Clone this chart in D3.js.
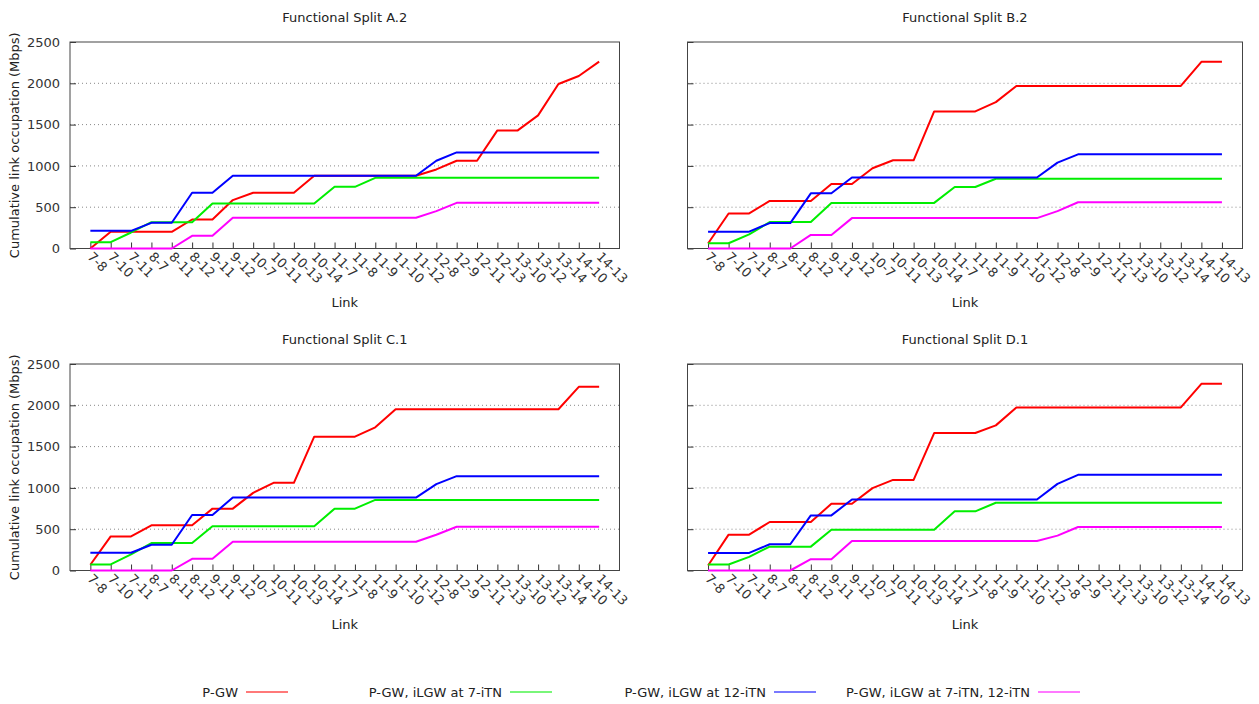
<!DOCTYPE html>
<html>
<head>
<meta charset="utf-8">
<script src="https://cdn.jsdelivr.net/npm/d3@7"></script>
<style>
  body { margin: 0; background: #fff; }
  svg { font-family: "DejaVu Sans", sans-serif; }
</style>
</head>
<body>
<div id="chart"></div>
<script>
const links = ["7-8", "7-10", "7-11", "8-7", "8-11", "8-12", "9-11", "9-12", "10-7", "10-11",
  "10-13", "10-14", "11-7", "11-8", "11-9", "11-10", "11-12", "12-8", "12-9", "12-11",
  "12-13", "13-10", "13-12", "13-14", "14-10", "14-13"];
const yTicks = [0, 500, 1000, 1500, 2000, 2500];
const seriesNames = ["P-GW", "P-GW, iLGW at 7-iTN", "P-GW, iLGW at 12-iTN", "P-GW, iLGW at 7-iTN, 12-iTN"];
const seriesColors = ["#ff0000", "#00ee00", "#0000ff", "#ff00ff"];

// Functional Split A.2
const a2Pgw = [0, 202, 202, 202, 202, 351, 351, 586, 675, 675, 675, 880, 880, 880, 880, 880, 880, 957, 1062, 1062, 1430, 1430, 1612, 1992, 2089, 2262];
const a2At7 = [77, 77, 194, 319, 319, 319, 545, 545, 545, 545, 545, 545, 747, 747, 856, 856, 856, 856, 856, 856, 856, 856, 856, 856, 856, 856];
const a2At12 = [214, 214, 214, 311, 311, 675, 675, 880, 880, 880, 880, 880, 880, 880, 880, 880, 880, 1062, 1163, 1163, 1163, 1163, 1163, 1163, 1163, 1163];
const a2Both = [0, 0, 0, 0, 0, 153, 153, 372, 372, 372, 372, 372, 372, 372, 372, 372, 372, 452, 553, 553, 553, 553, 553, 553, 553, 553];

// Functional Split B.2
const b2Pgw = [60, 424, 424, 576, 576, 576, 780, 780, 972, 1068, 1068, 1660, 1660, 1660, 1772, 1968, 1968, 1968, 1968, 1968, 1968, 1968, 1968, 1968, 2260, 2260];
const b2At7 = [64, 64, 172, 320, 320, 320, 552, 552, 552, 552, 552, 552, 744, 744, 844, 844, 844, 844, 844, 844, 844, 844, 844, 844, 844, 844];
const b2At12 = [204, 204, 204, 308, 308, 668, 668, 860, 860, 860, 860, 860, 860, 860, 860, 860, 860, 1040, 1140, 1140, 1140, 1140, 1140, 1140, 1140, 1140];
const b2Both = [0, 0, 0, 0, 0, 164, 164, 368, 368, 368, 368, 368, 368, 368, 368, 368, 368, 452, 560, 560, 560, 560, 560, 560, 560, 560];

// Functional Split C.1
const c1Pgw = [70, 413, 413, 547, 547, 547, 749, 749, 940, 1061, 1061, 1620, 1620, 1620, 1733, 1952, 1952, 1952, 1952, 1952, 1952, 1952, 1952, 1952, 2224, 2224];
const c1At7 = [73, 73, 194, 332, 332, 332, 535, 535, 535, 535, 535, 535, 749, 749, 855, 855, 855, 855, 855, 855, 855, 855, 855, 855, 855, 855];
const c1At12 = [215, 215, 215, 312, 312, 672, 672, 883, 883, 883, 883, 883, 883, 883, 883, 883, 883, 1045, 1142, 1142, 1142, 1142, 1142, 1142, 1142, 1142];
const c1Both = [0, 0, 0, 0, 0, 142, 142, 348, 348, 348, 348, 348, 348, 348, 348, 348, 348, 433, 530, 530, 530, 530, 530, 530, 530, 530];

// Functional Split D.1
const d1Pgw = [60, 434, 434, 587, 587, 587, 808, 808, 997, 1097, 1097, 1664, 1664, 1664, 1757, 1974, 1974, 1974, 1974, 1974, 1974, 1974, 1974, 1974, 2260, 2260];
const d1At7 = [72, 72, 165, 289, 289, 289, 494, 494, 494, 494, 494, 494, 716, 716, 820, 820, 820, 820, 820, 820, 820, 820, 820, 820, 820, 820];
const d1At12 = [213, 213, 213, 318, 318, 667, 667, 860, 860, 860, 860, 860, 860, 860, 860, 860, 860, 1049, 1158, 1158, 1158, 1158, 1158, 1158, 1158, 1158];
const d1Both = [0, 0, 0, 0, 0, 137, 137, 358, 358, 358, 358, 358, 358, 358, 358, 358, 358, 422, 527, 527, 527, 527, 527, 527, 527, 527];

const width = 1259;
const height = 704;
const fontSize = 13;

const panels = [
  { title: "Functional Split A.2", series: [a2Pgw, a2At7, a2At12, a2Both], left: 70, right: 619.5, top: 42, bottom: 248.5, yLabels: true },
  { title: "Functional Split B.2", series: [b2Pgw, b2At7, b2At12, b2Both], left: 687.5, right: 1242.5, top: 42, bottom: 248.5, yLabels: false },
  { title: "Functional Split C.1", series: [c1Pgw, c1At7, c1At12, c1Both], left: 70, right: 619.5, top: 364, bottom: 570.5, yLabels: true },
  { title: "Functional Split D.1", series: [d1Pgw, d1At7, d1At12, d1Both], left: 687.5, right: 1242.5, top: 364, bottom: 570.5, yLabels: false },
];

const svg = d3.select("#chart")
  .append("svg")
  .attr("width", width)
  .attr("height", height);

const drawPanel = (p) => {
  const x = d3.scalePoint().domain(links).range([p.left, p.right]).padding(1);
  const y = d3.scaleLinear().domain([0, 2500]).range([p.bottom, p.top]);
  const g = svg.append("g");

  // dotted grid
  g.append("g")
    .selectAll("line")
    .data(yTicks.filter((t) => t > 0 && t < 2500))
    .join("line")
    .attr("x1", p.left)
    .attr("x2", p.right)
    .attr("y1", (d) => y(d))
    .attr("y2", (d) => y(d))
    .attr("stroke", "#888")
    .attr("stroke-width", 1)
    .attr("stroke-dasharray", "1,3");

  // y axis: ticks inward
  const yAxis = d3.axisLeft(y)
    .tickValues(yTicks)
    .tickSizeInner(-6)
    .tickSizeOuter(0)
    .tickPadding(10)
    .tickFormat(p.yLabels ? d3.format("d") : () => "");
  const gy = g.append("g")
    .attr("transform", `translate(${p.left},0)`)
    .call(yAxis);
  gy.select(".domain").remove();
  gy.selectAll("line").attr("stroke", "#333");
  gy.selectAll("text")
    .attr("font-size", fontSize)
    .attr("fill", "#333")
    .attr("font-family", "DejaVu Sans, sans-serif");

  // x axis: ticks inward, rotated labels
  const xAxis = d3.axisBottom(x).tickSizeInner(-6).tickSizeOuter(0).tickPadding(0);
  const gx = g.append("g")
    .attr("transform", `translate(0,${p.bottom})`)
    .call(xAxis);
  gx.select(".domain").remove();
  gx.selectAll("line").attr("stroke", "#333");
  gx.selectAll("text")
    .attr("font-size", fontSize)
    .attr("fill", "#333")
    .attr("font-family", "DejaVu Sans, sans-serif")
    .attr("text-anchor", "start")
    .attr("dy", null)
    .attr("y", 0)
    .attr("transform", "translate(-4,9) rotate(45)");

  // frame
  g.append("rect")
    .attr("x", p.left)
    .attr("y", p.top)
    .attr("width", p.right - p.left)
    .attr("height", p.bottom - p.top)
    .attr("fill", "none")
    .attr("stroke", "#444")
    .attr("stroke-width", 1);

  // lines
  const line = d3.line()
    .x((d, i) => x(links[i]))
    .y((d) => y(d));
  p.series.forEach((s, k) => {
    g.append("path")
      .datum(s)
      .attr("fill", "none")
      .attr("stroke", seriesColors[k])
      .attr("stroke-width", 2)
      .attr("stroke-linejoin", "round")
      .attr("d", line);
  });

  // title
  const cx = (p.left + p.right) / 2;
  g.append("text")
    .attr("x", cx)
    .attr("y", p.top - 20)
    .attr("text-anchor", "middle")
    .attr("font-size", fontSize)
    .attr("fill", "#222")
    .text(p.title);

  // x label
  g.append("text")
    .attr("x", cx)
    .attr("y", p.bottom + 58)
    .attr("text-anchor", "middle")
    .attr("font-size", fontSize)
    .attr("fill", "#222")
    .text("Link");

  if (p.yLabels) {
    g.append("text")
      .attr("transform", `translate(19,${(p.top + p.bottom) / 2}) rotate(-90)`)
      .attr("text-anchor", "middle")
      .attr("font-size", fontSize)
      .attr("fill", "#222")
      .text("Cumulative link occupation (Mbps)");
  }
};

panels.forEach(drawPanel);

// legend
const legendX = d3.scaleLinear().domain([0, 1]).range([246, 510]);
const legend = svg.append("g").attr("transform", "translate(0,692)");
seriesNames.forEach((name, k) => {
  const lx = legendX(k);
  legend.append("text")
    .attr("x", lx - 8)
    .attr("y", 4.5)
    .attr("text-anchor", "end")
    .attr("font-size", fontSize)
    .attr("fill", "#222")
    .text(name);
  legend.append("line")
    .attr("x1", lx)
    .attr("x2", lx + 42)
    .attr("y1", 0)
    .attr("y2", 0)
    .attr("stroke", seriesColors[k])
    .attr("stroke-opacity", 0.7)
    .attr("stroke-width", 1.5);
});
</script>
</body>
</html>
